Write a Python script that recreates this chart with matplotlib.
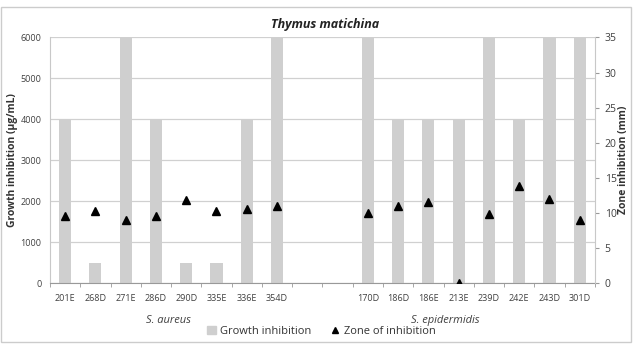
import matplotlib
matplotlib.use("Agg")
import matplotlib.pyplot as plt
from matplotlib.patches import Rectangle
from matplotlib.lines import Line2D
import numpy as np

plt.rcParams['font.family'] = ['Open Sans', 'DejaVu Sans']

title = "Thymus matichina"
aureus_strains = ["201E", "268D", "271E", "286D", "290D", "335E", "336E", "354D"]
aureus_growth = [4000, 500, 6000, 4000, 500, 500, 4000, 6000]
aureus_zone = [9.5, 10.3, 9.0, 9.5, 11.8, 10.3, 10.5, 11.0]
epi_strains = ["170D", "186D", "186E", "213E", "239D", "242E", "243D", "301D"]
epi_growth = [6000, 4000, 4000, 4000, 6000, 4000, 6000, 6000]
epi_zone = [10.0, 11.0, 11.5, 0.0, 9.8, 13.8, 12.0, 9.0]
left_ticks = [0, 1000, 2000, 3000, 4000, 5000, 6000]
right_ticks = [0, 5, 10, 15, 20, 25, 30, 35]

labels = aureus_strains + ["", ""] + epi_strains
growth = aureus_growth + [np.nan, np.nan] + epi_growth
zone = aureus_zone + [np.nan, np.nan] + epi_zone
x = np.arange(len(labels))

fig = plt.figure(figsize=(6.39, 3.47), dpi=100)
fig.patches.append(Rectangle((0.002, 0.015), 0.986, 0.965, transform=fig.transFigure,
                             fill=False, edgecolor='#cccccc', linewidth=1.0))
ax = fig.add_axes([0.0782, 0.1844, 0.8528, 0.7076])
ax2 = ax.twinx()

ax.bar(x, growth, width=0.4, color='#cfcfcf', zorder=2)
ax.set_ylim(0, 6000)
ax.set_xlim(-0.5, len(labels) - 0.5)
ax.set_yticks(left_ticks)
ax.yaxis.grid(True, color='#d0d0d0', linewidth=0.9, zorder=0)
ax.set_axisbelow(True)
ax.set_xticks(x)
ax.set_xticklabels(labels, fontsize=6.5, color='#404040')
ax.tick_params(axis='x', length=0, pad=8)
ax.set_xticks(np.arange(-0.5, len(labels)), minor=True)
ax.tick_params(axis='x', which='minor', length=3, color='#999999')
ax.tick_params(axis='y', length=0, labelsize=6.5, labelcolor='#404040', pad=6)
ax.set_ylabel("Growth inhibition (µg/mL)", fontsize=7.5, fontweight='bold', color='#333333', labelpad=2)
for s in ['top', 'right']:
    ax.spines[s].set_visible(False)
ax.spines['left'].set_color('#c8c8c8')
ax.spines['bottom'].set_color('#999999')

ax2.plot(x, zone, linestyle='none', marker='^', color='black', markersize=6, zorder=3)
ax2.set_ylim(0, 35)
ax2.set_yticks(right_ticks)
ax2.tick_params(axis='y', length=3, color='#999999', labelsize=7.5, labelcolor='#404040', pad=4)
ax2.set_ylabel("Zone inhibition (mm)", fontsize=7.5, fontweight='bold', color='#333333', labelpad=1)
for s in ['top', 'left', 'bottom']:
    ax2.spines[s].set_visible(False)
ax2.spines['right'].set_color('#c8c8c8')

fig.text(0.508, 0.928, title, ha='center', va='center', fontsize=9, fontweight='bold', style='italic', color='#222222')
fig.text(0.263, 0.077, "S. aureus", ha='center', va='center', fontsize=8, style='italic', color='#404040')
fig.text(0.697, 0.077, "S. epidermidis", ha='center', va='center', fontsize=8, style='italic', color='#404040')

handles = [Rectangle((0, 0), 1, 1, color='#cfcfcf'),
           Line2D([], [], linestyle='none', marker='^', color='black', markersize=5)]
fig.legend(handles, ["Growth inhibition", "Zone of inhibition"], loc='center',
           bbox_to_anchor=(0.503, 0.045), ncol=2, frameon=False, fontsize=8,
           handlelength=0.8, handleheight=0.8, handletextpad=0.4, columnspacing=1.7,
           labelcolor='#333333')

fig.savefig("out.png", dpi=100)
